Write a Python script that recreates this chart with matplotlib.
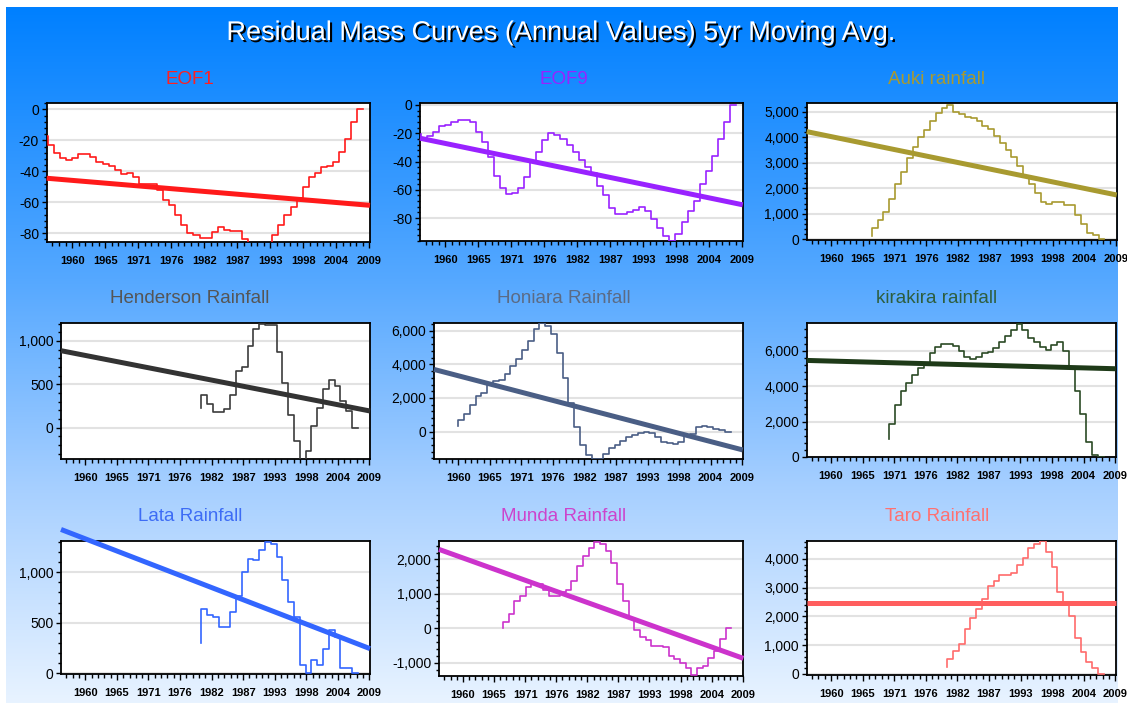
import numpy as np
import matplotlib
matplotlib.use("Agg")
import matplotlib.pyplot as plt
import matplotlib.patheffects as pe
from matplotlib.colors import LinearSegmentedColormap
from matplotlib.ticker import MultipleLocator, AutoMinorLocator, FixedLocator, FuncFormatter

W, H = 1127, 703

# data (residual mass, steps end at each year)
titles = ["EOF1", "EOF9", "Auki rainfall",
          "Henderson Rainfall", "Honiara Rainfall", "kirakira rainfall",
          "Lata Rainfall", "Munda Rainfall", "Taro Rainfall"]

first_year = [1955, 1956, 1967, 1980, 1960, 1970, 1980, 1967, 1980]

eof1 = [-17, -17, -23, -28, -31.6, -32.7, -31.6, -29, -29, -30.5, -34, -35, -36.6, -39, -42, -41,
        -44, -48, -48, -48.5, -52, -58.5, -62, -68, -75, -80, -81, -83, -83, -79, -76, -78,
        -78.5, -78.5, -84, -88, -90, -90, -88, -81, -75, -68, -63, -57, -50, -44, -41, -37.4,
        -36.6, -33.8, -27.7, -19.4, -8.4, 0]
eof9 = [-20.5, -23, -22, -19, -15, -14.5, -12, -10.6, -10.6, -12, -19, -26, -37, -50, -59, -63,
        -62, -59, -51, -40, -33, -25, -20, -21, -24, -28, -33, -39, -44, -48, -57, -64, -73,
        -77, -77, -75.5, -74, -72, -75, -81, -87, -93, -96, -91, -83, -75, -68, -56, -47, -36,
        -24, -12, 0]
auki = [130, 460, 760, 1080, 1565, 2150, 2650, 3170, 3600, 3995, 4280, 4650, 4960, 5160, 5270,
        5000, 4910, 4800, 4740, 4635, 4440, 4305, 4060, 3760, 3500, 3240, 2870, 2450, 2170,
        1800, 1475, 1380, 1475, 1475, 1345, 1345, 950, 590, 235, 170, 0]
henderson = [223, 377, 270, 180, 180, 210, 375, 650, 700, 940, 1140, 1200, 1190, 1180, 870, 520,
             150, -150, -400, -270, 20, 230, 450, 545, 480, 310, 190, 0]
honiara = [360, 700, 1050, 1600, 2100, 2300, 2750, 3000, 3100, 3450, 3900, 4300, 4850, 5400,
           6100, 6450, 6300, 5800, 4650, 3200, 1700, 300, -800, -1400, -1620, -1620, -1350,
           -950, -800, -550, -300, -200, -100, 0, -100, -350, -600, -700, -750, -600, -200,
           -150, 250, 350, 250, 150, 100, 0]
kirakira = [1010, 1875, 2950, 3700, 4200, 4650, 5050, 5300, 5850, 6200, 6400, 6400, 6250, 6000,
            5650, 5550, 5650, 5850, 5900, 6150, 6500, 6850, 7150, 7500, 7150, 6700, 6500, 6200,
            6050, 6300, 6500, 6000, 5000, 3700, 2400, 850, 100, 0]
lata = [304, 637, 575, 560, 460, 460, 610, 765, 1000, 1130, 1115, 1220, 1295, 1280, 1150, 925,
        703, 555, 82, 0, 134, 82, 245, 428, 360, 59, 59, 0]
munda = [20, 194, 420, 800, 950, 1200, 1300, 1280, 1100, 950, 950, 1050, 1100, 1380, 1820, 2100,
         2320, 2520, 2450, 2250, 1900, 1300, 800, 300, -50, -250, -350, -500, -500, -550, -800,
         -900, -1000, -1150, -1350, -1150, -1100, -850, -650, -300, 0]
taro = [232, 510, 800, 1050, 1560, 1950, 2250, 2600, 3050, 3250, 3450, 3450, 3520, 3800, 4050,
        4380, 4530, 4620, 4250, 3720, 2850, 2400, 2000, 1250, 750, 400, 200, 0]

series = [eof1, eof9, auki, henderson, honiara, kirakira, lata, munda, taro]

# linear trend, value at left and right end of the axis
trend_start = [-44.5, -23.5, 4220, 888, 3700, 5450, 1421, 2294, 2457]
trend_end = [-62, -70.6, 1735, 192, -1090, 4980, 245, -871, 2457]

xtick_labels = ["1960", "1965", "1971", "1976", "1982", "1987", "1993", "1998", "2004", "2009"]

# styles / layout
line_col = ["#ff1a1a", "#9922ff", "#a89a30", "#3c3c3c", "#4a5e85", "#2b4a25",
            "#3366ff", "#cc33cc", "#ff6b6b"]
trend_col = ["#ff1a1a", "#9922ff", "#a89a30", "#333333", "#4a5e85", "#1e3a18",
             "#3366ff", "#cc33cc", "#ff5e5e"]
title_col = ["#ff2020", "#9922ff", "#a89a30", "#555555", "#5b6b85", "#2e5e3e",
             "#3d6cf5", "#cc44cc", "#ff7070"]
ylims = [(-85.5, 4.3), (-96, 1.2), (-30, 5330), (-362, 1211), (-1630, 6480),
         (-20, 7580), (-8, 1310), (-1375, 2546), (-35, 4636)]
ysteps = [20, 20, 1000, 500, 2000, 2000, 500, 1000, 1000]
# l, t, r, b in pixels
rects = [(46.7, 102.7, 370, 241.7), (420, 103.3, 742.7, 240.7), (806.7, 103.3, 1116.7, 240),
         (61, 322.7, 370, 459), (434, 322.7, 742.7, 459), (806.7, 322.7, 1115.7, 457.3),
         (61, 540.7, 370, 674.3), (439, 540.7, 743.3, 675.7), (806.7, 540.7, 1116, 675)]
title_x = [190, 564, 937]
title_base = [84, 303, 521]
XLIM = (1955.8, 2009.1)

plt.rcParams["font.family"] = ["Liberation Sans", "DejaVu Sans"]

fig = plt.figure(figsize=(W / 100, H / 100), dpi=100)

# blue gradient background
bg = fig.add_axes([6 / W, 0, (1118 - 6) / W, (H - 7) / H])
cmap = LinearSegmentedColormap.from_list(
    "bg", [(0, "#0080ff"), (0.39, "#55a8ff"), (0.69, "#a6cfff"), (1, "#e8f3ff")])
bg.imshow(np.linspace(0, 1, 256)[:, None], aspect="auto", cmap=cmap,
          extent=[0, 1, 0, 1], origin="upper")
bg.axis("off")

fig.text(562 / W, 1 - 40 / H, "Residual Mass Curves (Annual Values) 5yr Moving Avg.",
         ha="center", va="baseline", color="white", fontsize=19.5,
         path_effects=[pe.withSimplePatchShadow(offset=(1.5, -1.5), shadow_rgbFace="black",
                                                alpha=1.0)])

fmt = FuncFormatter(lambda v, p: "{:,.0f}".format(v).replace("\u2212", "-"))

for i in range(9):
    l, t, r, b = rects[i]
    ax = fig.add_axes([l / W, 1 - b / H, (r - l) / W, (b - t) / H])
    yrs = first_year[i] + np.arange(len(series[i]))
    ax.plot(yrs, series[i], drawstyle="steps-pre", color=line_col[i], lw=1.2, zorder=3)
    ax.plot(XLIM, [trend_start[i], trend_end[i]], color=trend_col[i], lw=3.6,
            solid_capstyle="butt", clip_on=False, zorder=4)
    ax.set_xlim(*XLIM)
    ax.set_ylim(*ylims[i])

    ax.yaxis.set_major_locator(MultipleLocator(ysteps[i]))
    ax.yaxis.set_minor_locator(AutoMinorLocator(5))
    ax.yaxis.set_major_formatter(fmt)
    ax.xaxis.set_major_locator(FixedLocator(np.linspace(1960, 2009, 10)))
    ax.xaxis.set_minor_locator(AutoMinorLocator(5))
    ax.set_xticklabels(xtick_labels, fontweight="bold", fontsize=8)

    ax.grid(axis="y", which="major", color="#e2e2e2", lw=1.5)
    ax.set_axisbelow(True)
    ax.tick_params(axis="y", which="major", length=3.5, width=1, pad=2, labelsize=10)
    ax.tick_params(axis="y", which="minor", length=2, width=1)
    ax.tick_params(axis="x", which="major", length=4, width=1, pad=6)
    ax.tick_params(axis="x", which="minor", length=3, width=1)
    for s in ax.spines.values():
        s.set_linewidth(1.3)

    fig.text(title_x[i % 3] / W, 1 - title_base[i // 3] / H, titles[i], ha="center",
             va="baseline", color=title_col[i], fontsize=13.5)

fig.savefig("out.png", dpi=100)
